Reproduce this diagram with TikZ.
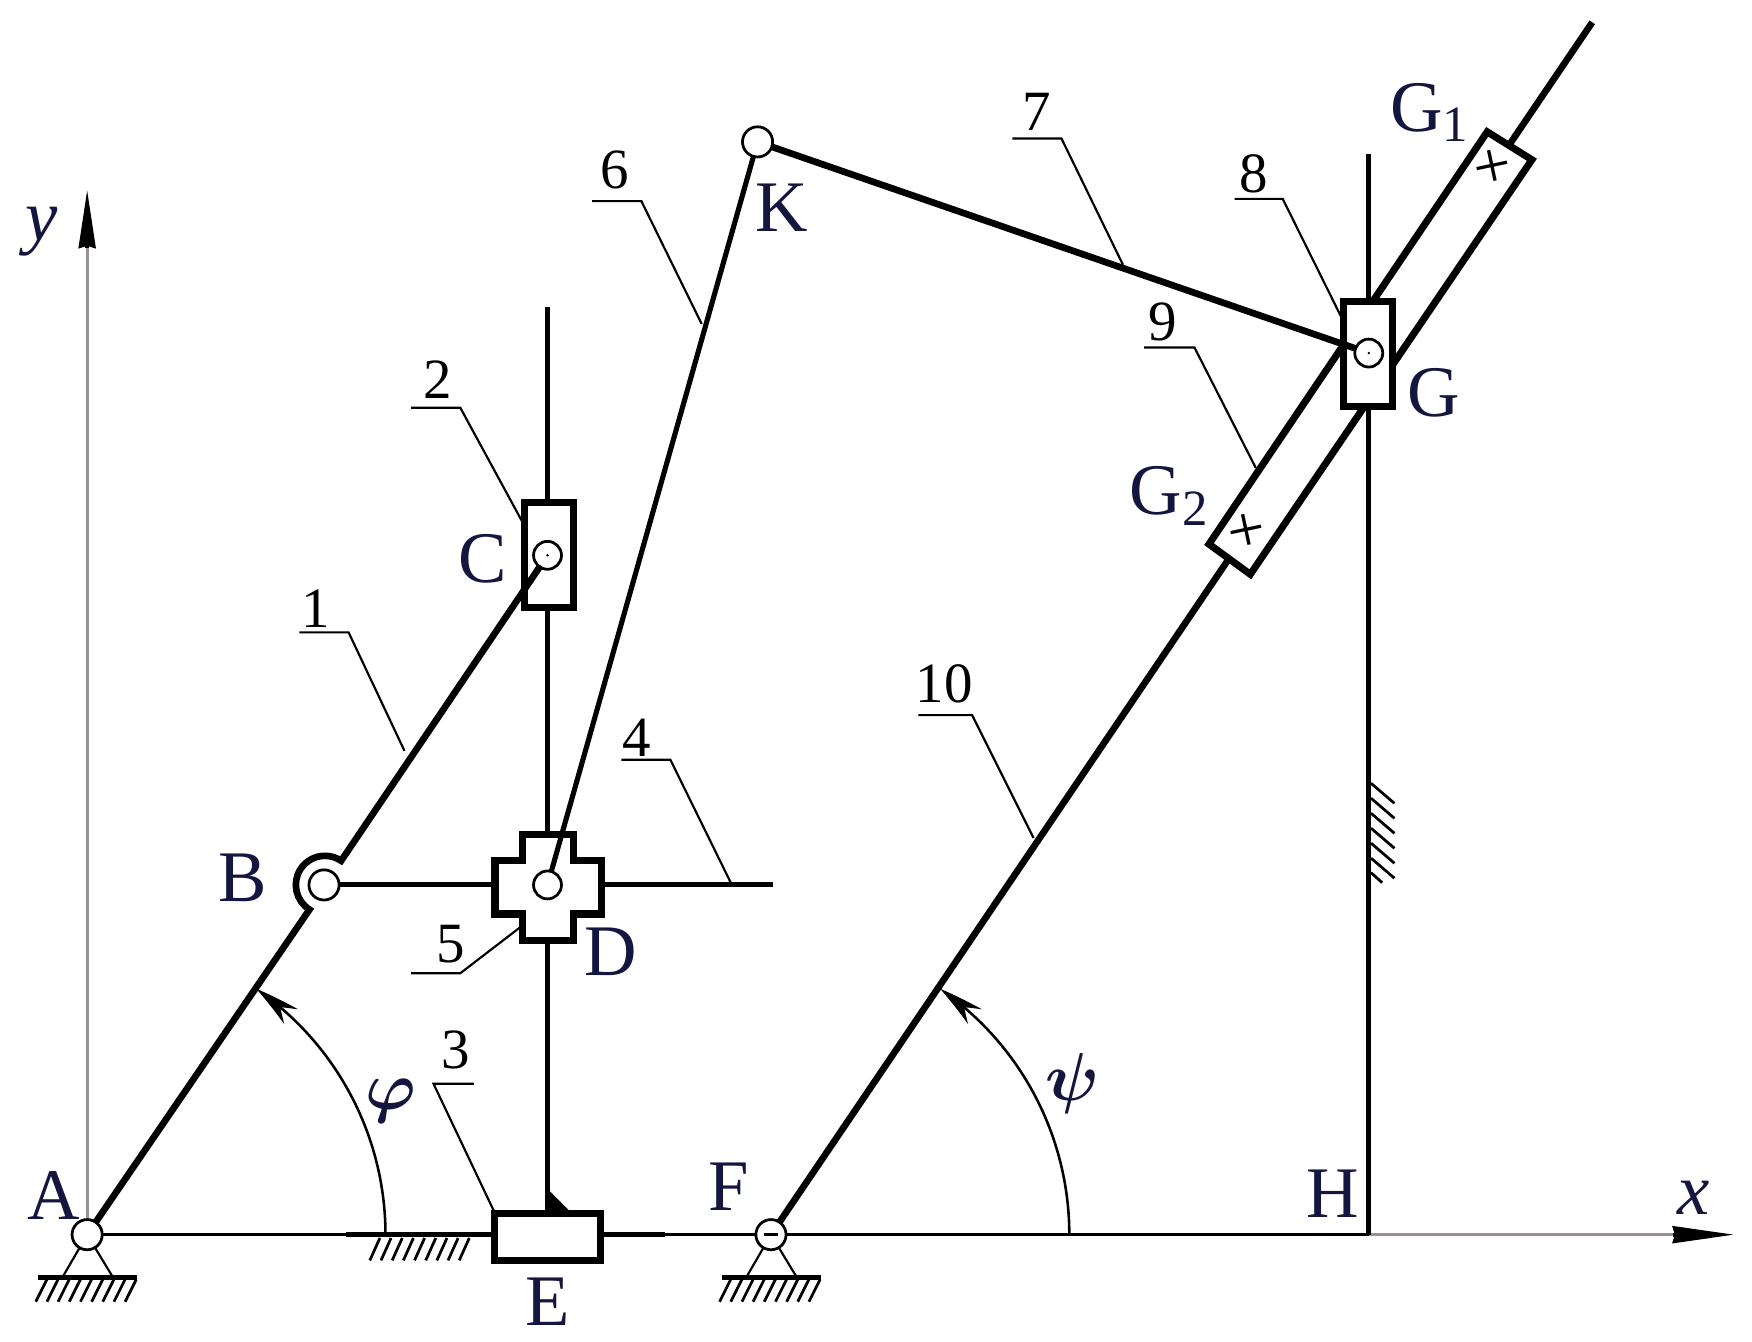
\documentclass[tikz,border=0pt]{standalone}
\usepackage{amsmath}
\usepackage{fontspec}
\setmainfont{Liberation Serif}
\usetikzlibrary{arrows.meta,bending}
\definecolor{inchiostro}{HTML}{14163F}
\definecolor{assi}{HTML}{9A9092}
\begin{document}
\begin{tikzpicture}
\tikzstyle{asta} = [line width=1.7pt]
\tikzstyle{guida} = [line width=1.3pt]
\tikzstyle{sottile} = [line width=0.55pt]
\tikzstyle{tratteggio} = [line width=0.7pt]
\tikzstyle{pattino} = [draw,line width=1.8pt,fill=white,inner sep=0pt,outer sep=0pt]
\tikzstyle{perno} = [circle,draw,line width=0.7pt,fill=white,inner sep=0pt,minimum size=0.27cm]
\tikzstyle{lettera} = [inchiostro,inner sep=0pt,font=\fontsize{18.5}{20}\selectfont]
\tikzstyle{numero} = [inner sep=0pt,font=\fontsize{14.5}{15}\selectfont]
\tikzstyle{croce} = [rotate=12,inner sep=0pt,font=\fontsize{17}{17}\selectfont]
\tikzstyle{freccia} = [-{Stealth[length=0.40cm,width=0.18cm,bend]}]
\useasboundingbox (0,0) rectangle (15.68,12.01);
% points of the mechanism
\coordinate (A) at (0.78,0.96);
\coordinate (B) at (2.90,4.09);
\coordinate (C) at (4.90,7.04);
\coordinate (D) at (4.90,4.09);
\coordinate (F) at (6.90,0.96);
\coordinate (G) at (12.25,8.85);
\coordinate (H) at (12.25,0.96);
\coordinate (K) at (6.78,10.74);
\coordinate (b1) at (2.77,3.87);
\coordinate (t1) at (4.90,9.26);
\coordinate (t2) at (12.25,10.63);
\coordinate (t3) at (14.25,11.81);
\coordinate (r4) at (6.92,4.09);
\coordinate (g1) at (10.82,7.14);
\coordinate (g2) at (11.19,6.87);
\coordinate (g3) at (13.71,10.58);
\coordinate (g4) at (13.31,10.83);
\coordinate (x0) at (14.97,0.96);
\coordinate (xx) at (15.52,0.96);
\coordinate (y0) at (0.78,9.79);
\coordinate (yy) at (0.78,10.31);
% axes and base
\draw[line width=0.8pt,assi] (H) -- (x0);
\draw[line width=0.8pt,assi] (A) -- (y0);
\draw[-{Stealth[length=0.55cm,width=0.15cm,inset=0.02cm]},line width=1pt] (x0) -- (xx);
\draw[-{Stealth[length=0.52cm,width=0.15cm,inset=0.02cm]},line width=1pt] (y0) -- (yy);
\draw[line width=0.7pt] (A) -- (H);
\draw[guida] (3.10,0.96) -- (4.43,0.96);
\draw[guida] (5.38,0.96) -- (5.95,0.96);
\foreach \i in {0,...,8}
  \draw[tratteggio] ({3.40+\i*0.1},0.93) -- ({3.31+\i*0.1},0.73);
% supports
\foreach \p in {A,F} {
  \draw[sottile] (\p) -- ++(-0.22,-0.38) (\p) -- ++(0.23,-0.38);
  \draw[guida] (\p) ++(-0.44,-0.38) -- ++(0.89,0);
  \foreach \i in {0,...,8}
    \draw[tratteggio] (\p) ++({-0.36+\i*0.1},-0.40) -- ++(-0.10,-0.20);
}
% guides
\draw[guida] (t1) -- (4.90,1.17);
\draw[guida] (B) -- (r4);
\draw[guida] (t2) -- (H);
\foreach \i in {0,...,5}
  \draw[tratteggio] (12.27,{5.00-\i*0.134}) -- ++(0.21,-0.18);
\draw[tratteggio] (12.27,4.20) -- ++(0.10,-0.09);
% rod and long block
\draw[asta] (F) -- (t3);
\draw[pattino] (g1) -- (g2) -- (g3) -- (g4) -- cycle;
\node[croce] (m1) at (13.36,10.50) {+};
\node[croce] (m2) at (11.16,7.24) {+};
% sliding blocks
\node[pattino,minimum width=0.95cm,minimum height=0.42cm] (E) at (4.90,0.94) {};
\node[pattino,minimum width=0.44cm,minimum height=0.94cm] (s2) at (4.91,7.04) {};
\node[pattino,minimum width=0.44cm,minimum height=0.94cm] (s8) at (12.24,8.84) {};
\draw[pattino,shift={(D)}] (-0.22,0.45) -- (0.23,0.45) -- (0.23,0.22) -- (0.48,0.22) -- (0.48,-0.26) -- (0.23,-0.26) -- (0.23,-0.50) -- (-0.22,-0.50) -- (-0.22,-0.26) -- (-0.47,-0.26) -- (-0.47,0.22) -- (-0.22,0.22) -- cycle;
\fill (4.90,1.17) -- (4.90,1.37) -- (5.10,1.17) -- cycle;
% links
\draw[asta] (A) -- (b1) arc[start angle=238,end angle=56,radius=0.26] -- (C);
\draw[line width=1.3pt] (K) -- (D);
\draw[asta] (K) -- (G);
% pins
\node[perno] (pA) at (A) {};
\node[perno] (pB) at (B) {};
\node[perno,minimum size=0.25cm] (pC) at (C) {};
\node[perno,minimum size=0.25cm] (pD) at (D) {};
\node[perno] (pF) at (F) {};
\node[perno,minimum size=0.25cm] (pG) at (G) {};
\node[perno] (pK) at (K) {};
\fill (C) circle (0.012);
\fill (G) circle (0.012);
\draw[line width=0.7pt] (6.84,0.96) -- (6.96,0.96);
% angles
\draw[line width=0.65pt,freccia] (3.45,0.96) arc[start angle=0,end angle=55.5,radius=2.67];
\draw[line width=0.65pt,freccia] (9.57,0.96) arc[start angle=0,end angle=55.5,radius=2.67];
\node[lettera,font=\fontsize{17}{18}\selectfont] (phi) at (3.50,2.16) {$\boldsymbol{\varphi}$};
\node[lettera,font=\fontsize{17}{18}\selectfont] (psi) at (9.60,2.31) {$\boldsymbol{\psi}$};
% leaders
\draw[sottile] (2.68,6.35) -- (3.12,6.35) -- (3.62,5.29);
\draw[sottile] (3.68,8.36) -- (4.12,8.36) -- (4.68,7.33);
\draw[sottile] (4.24,2.31) -- (3.88,2.31) -- (4.44,1.13);
\draw[sottile] (5.56,5.21) -- (6.00,5.21) -- (6.55,4.09);
\draw[sottile] (3.68,3.30) -- (4.12,3.30) -- (4.68,3.73);
\draw[sottile] (5.30,10.21) -- (5.74,10.21) -- (6.28,9.11);
\draw[sottile] (9.06,10.77) -- (9.50,10.77) -- (10.05,9.64);
\draw[sottile] (11.05,10.23) -- (11.48,10.23) -- (12.00,9.18);
\draw[sottile] (10.24,8.90) -- (10.69,8.90) -- (11.24,7.82);
\draw[sottile] (8.22,5.61) -- (8.70,5.61) -- (9.25,4.51);
\node[numero] (n1) at (2.83,6.56) {1};
\node[numero] (n2) at (3.92,8.61) {2};
\node[numero] (n3) at (4.08,2.61) {3};
\node[numero] (n4) at (5.70,5.41) {4};
\node[numero] (n5) at (4.03,3.56) {5};
\node[numero] (n6) at (5.50,10.49) {6};
\node[numero] (n7) at (9.28,11.01) {7};
\node[numero] (n8) at (11.22,10.45) {8};
\node[numero] (n9) at (10.41,9.13) {9};
\node[numero] (n10) at (8.45,5.89) {10};
% names of the points
\node[lettera] (lA) at (0.48,1.31) {A};
\node[lettera] (lB) at (2.17,4.15) {B};
\node[lettera] (lC) at (4.32,7.01) {C};
\node[lettera] (lD) at (5.47,3.49) {D};
\node[lettera] (lE) at (4.90,0.36) {E};
\node[lettera] (lF) at (6.52,1.39) {F};
\node[lettera] (lG) at (12.83,8.49) {G};
\node[lettera] (lH) at (11.93,1.33) {H};
\node[lettera] (lK) at (7.00,10.15) {K};
\node[lettera] (lG1) at (12.80,11.00) {G$_{\mathrm{1}}$};
\node[lettera] (lG2) at (10.47,7.57) {G$_{\mathrm{2}}$};
\node[lettera] (lx) at (15.16,1.29) {\itshape x};
\node[lettera] (ly) at (0.37,9.94) {\itshape y};
\end{tikzpicture}
\end{document}
